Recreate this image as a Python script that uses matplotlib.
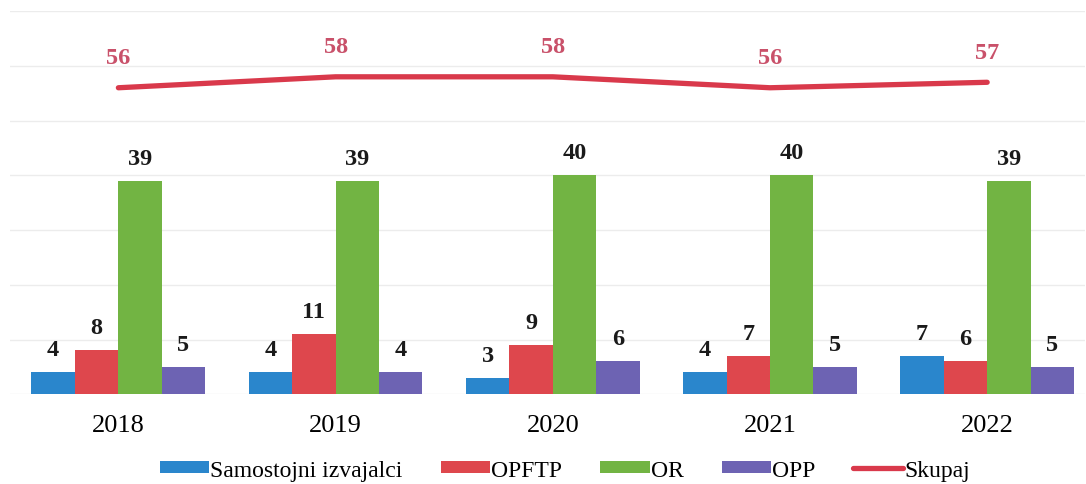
import numpy as np
import matplotlib.pyplot as plt

years = ['2018', '2019', '2020', '2021', '2022']
samostojni = [4, 4, 3, 4, 7]
opftp = [8, 11, 9, 7, 6]
orr = [39, 39, 40, 40, 39]
opp = [5, 4, 6, 5, 5]
skupaj = [56, 58, 58, 56, 57]

series = [('Samostojni izvajalci', samostojni, '#2a86cc'),
          ('OPFTP', opftp, '#de474d'),
          ('OR', orr, '#72b443'),
          ('OPP', opp, '#6d63b3')]

plt.rcParams['font.family'] = ['Liberation Serif', 'DejaVu Serif']

fig = plt.figure(figsize=(10.86, 4.85), dpi=100)
ax = fig.add_axes([0.009, 0.185, 0.99, 0.79])
x = np.arange(len(years))
w = 0.2

handles = []
for i, (name, vals, col) in enumerate(series):
    pos = x + (i - 1.5) * w
    b = ax.bar(pos, vals, w, color=col, label=name, zorder=2)
    handles.append(b)
    for p, v in zip(pos, vals):
        ax.text(p, v + 2.2, str(v), ha='center', va='bottom',
                fontsize=17.5, fontweight='bold', color='#1a1a1a')

ln, = ax.plot(x, skupaj, color='#d9394b', lw=3.8, solid_capstyle='round',
              label='Skupaj', zorder=3)
handles.append(ln)
for xi, v in zip(x, skupaj):
    ax.text(xi, v + 3.6, str(v), ha='center', va='bottom',
            fontsize=17.5, fontweight='bold', color='#c9516a')

ax.set_ylim(0, 70)
ax.set_xlim(-0.5, 4.45)
ax.set_yticks(range(0, 71, 10))
ax.yaxis.grid(True, color='#ececec', lw=1, zorder=0)
ax.tick_params(axis='y', left=False, labelleft=False)
ax.tick_params(axis='x', length=0, labelsize=19, pad=14)
ax.set_xticks(x)
ax.set_xticklabels(years)
for s in ax.spines.values():
    s.set_visible(False)

fig.legend(handles, [h.get_label() for h in handles],
           loc='lower center', bbox_to_anchor=(0.52, -0.037), ncol=5,
           frameon=False, fontsize=17, handlelength=2.1, handleheight=0.4,
           columnspacing=1.6, handletextpad=0.05)

fig.savefig('out.png', dpi=100)
